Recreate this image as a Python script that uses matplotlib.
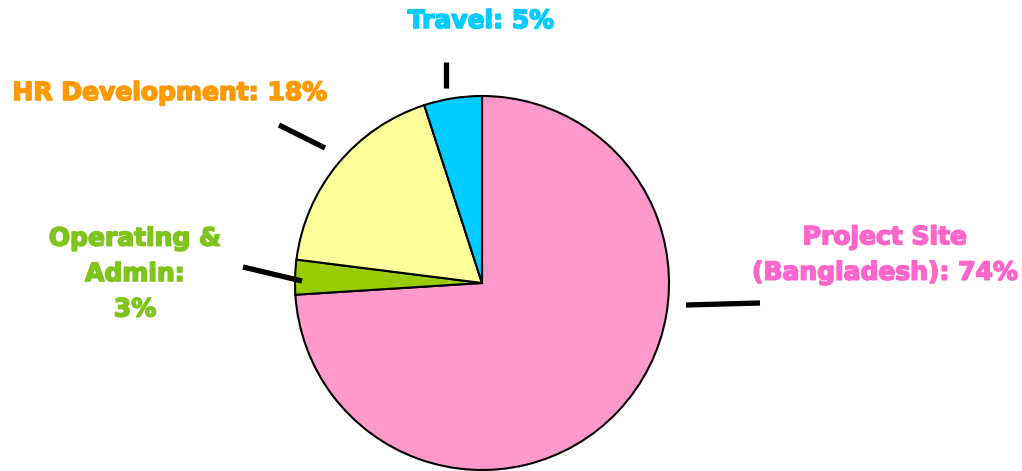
import matplotlib.pyplot as plt
import matplotlib.patheffects as pe

labels = ['Project Site\n(Bangladesh): 74%', 'Operating &\nAdmin:\n3%', 'HR Development: 18%', 'Travel: 5%']
values = [74, 3, 18, 5]
colors = ['#FF99CC', '#99CC00', '#FFFF99', '#00CCFF']
text_colors = ['#FF66CC', '#7FC41C', '#FF9900', '#00CCFF']

# pixel layout of the original picture (center of pie and radius)
CX, CY, R = 482, 283, 187


def px(x, y):
    return (x - CX) / R, (CY - y) / R


# label centers and leader lines, in pixels
label_pos = [(885, 255), (135, 274), (170, 93), (481, 21)]
leaders = [((686, 305), (760, 303)), ((243, 267), (302, 281)),
           ((279, 125), (325, 148)), ((446, 62), (446, 88))]

fig = plt.figure(figsize=(10.22, 4.71), dpi=100)
ax = fig.add_axes([0, 0, 1, 1])

ax.pie(values, colors=colors, startangle=90, counterclock=False, radius=1,
       wedgeprops=dict(edgecolor='black', linewidth=1.5))

for lab, c, (x, y) in zip(labels, text_colors, label_pos):
    ax.text(*px(x, y), lab, color=c, ha='center', va='center',
            fontsize=18, fontweight='heavy', family='DejaVu Sans',
            linespacing=1.6,
            path_effects=[pe.withStroke(linewidth=1.2, foreground=c)])

for (a, b) in leaders:
    p, q = px(*a), px(*b)
    ax.plot([p[0], q[0]], [p[1], q[1]], color='black', lw=3.8, solid_capstyle='butt')

ax.set_xlim(-CX / R, (1022 - CX) / R)
ax.set_ylim(-(471 - CY) / R, CY / R)
ax.set_aspect('auto')
ax.axis('off')

fig.savefig('out.png', dpi=100)
